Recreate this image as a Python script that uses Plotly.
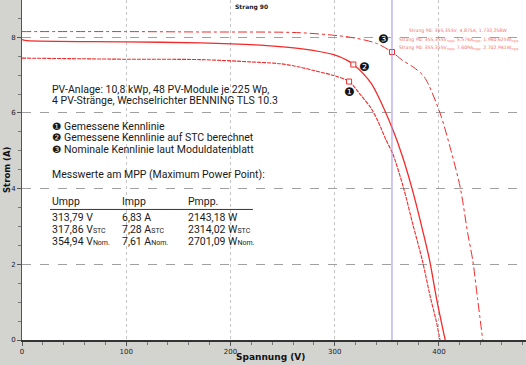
import plotly.graph_objects as go

# ---------------- data ----------------
# Curve 1: measured I-V characteristic
v1 = [0, 100, 171, 219, 248, 267, 280, 299, 313.79, 325, 335, 342, 349, 356, 366, 375, 384, 392, 397, 401]
i1 = [7.45, 7.42, 7.41, 7.35, 7.30, 7.21, 7.12, 6.99, 6.83, 6.47, 6.12, 5.75, 5.30, 4.90, 4.02, 3.05, 2.11, 1.10, 0.55, 0]
# Curve 2: measured, converted to STC
v2 = [0, 5, 100, 171, 235, 267, 299, 312, 317.86, 328, 335, 341, 356, 365, 374, 383, 391, 398, 406]
i2 = [7.94, 7.91, 7.88, 7.85, 7.78, 7.70, 7.54, 7.39, 7.28, 7.02, 6.78, 6.48, 5.54, 4.85, 4.02, 3.05, 2.11, 1.05, 0]
# Curve 3: nominal characteristic (module data sheet)
v3 = [0, 100, 171, 267, 315, 340, 354.94, 365, 376, 386, 401, 411.5, 420.5, 427.6, 432.4, 437, 442]
i3 = [8.15, 8.15, 8.14, 8.12, 8.00, 7.84, 7.61, 7.39, 7.20, 6.95, 6.00, 5.01, 4.02, 2.82, 2.11, 1.10, 0]

# MPP values (table)
umpp = [313.79, 317.86, 354.94]
impp = [6.83, 7.28, 7.61]
pmpp = [2143.18, 2314.02, 2701.09]
suffix = ["", "STC", "Nom."]
marks = ["\u2776", "\u2777", "\u2778"]
labels = ["Gemessene Kennlinie", "Gemessene Kennlinie auf STC berechnet",
          "Nominale Kennlinie laut Moduldatenblatt"]
cursor_lines = ["Strang 90: 355,355V, 4,875A, 1.733,258W",
                "Strang 90: 355,355V<sub>mpp</sub>, 5,574A<sub>mpp</sub>, 1.980,625W<sub>mpp</sub>",
                "Strang 90: 355,355V<sub>mpp</sub>, 7,609A<sub>mpp</sub>, 2.702,941W<sub>mpp</sub>"]
x_ticks = [0, 100, 200, 300, 400]
y_ticks = [0, 2, 4, 6, 8]

RED = "#f42a2a"
TXT = "Liberation Sans Narrow, Arial Narrow, Roboto, sans-serif"

fig = go.Figure()
fig.add_trace(go.Scatter(x=v3, y=i3, mode="lines", line=dict(color=RED, width=1, dash="dashdot", shape="spline", smoothing=0.8), hoverinfo="skip"))
fig.add_trace(go.Scatter(x=v1, y=i1, mode="lines", line=dict(color=RED, width=1.1, dash="4px,1px", shape="spline", smoothing=0.8), hoverinfo="skip"))
fig.add_trace(go.Scatter(x=v2, y=i2, mode="lines", line=dict(color=RED, width=1.3, shape="spline", smoothing=0.8), hoverinfo="skip"))
fig.add_trace(go.Scatter(x=umpp, y=impp, mode="markers",
                         marker=dict(symbol="square", size=5, color="white", line=dict(color=RED, width=1)),
                         hoverinfo="skip"))

# cursor line at nominal Umpp
fig.add_shape(type="line", x0=umpp[2], x1=umpp[2], y0=0, y1=1, xref="x", yref="paper",
              line=dict(color="#9a8ee6", width=1))

ann = []
# numbered markers near MPPs
offs = [(0.2, -0.27), (11, -0.06), (-7.7, 0.34)]
for k in range(3):
    ann.append(dict(x=umpp[k] + offs[k][0], y=impp[k] + offs[k][1], text=marks[k], showarrow=False,
                    xanchor="center", yanchor="middle",
                    font=dict(family="DejaVu Sans", size=12, color="#111")))

# text block
X0 = 26.9
def t(x, y, s, size=10.5):
    ann.append(dict(x=x, y=y, text=s, showarrow=False, xanchor="left", yanchor="middle",
                    font=dict(family=TXT, size=size, color="#1a1a1a")))

t(X0, 6.61, "PV-Anlage: 10,8 kWp, 48 PV-Module je 225 Wp,")
t(X0, 6.32, "4 PV-Stränge, Wechselrichter BENNING TLS 10.3")
for k, yy in enumerate([5.64, 5.34, 5.03]):
    t(X0, yy, f"<span style='font-family:DejaVu Sans'>{marks[k]}</span> " + labels[k])
t(X0, 4.38, "Messwerte am MPP (Maximum Power Point):")
cols = [X0, 94, 157]
t(cols[0], 3.66, "Umpp")
t(cols[1], 3.66, "Impp")
t(cols[2], 3.66, "Pmpp.")
row_y = [3.23, 2.91, 2.60]
def fmt(v):
    return f"{v:.2f}".replace(".", ",")
for k in range(3):
    sub = f"<span style='font-size:7px'>{suffix[k]}</span>" if suffix[k] else ""
    t(cols[0], row_y[k], f"{fmt(umpp[k])} V{sub}")
    t(cols[1], row_y[k], f"{fmt(impp[k])} A{sub}")
    t(cols[2], row_y[k], f"{fmt(pmpp[k])} W{sub}")

fig.add_shape(type="line", x0=X0, x1=221.5, y0=3.45, y1=3.45, xref="x", yref="y",
              line=dict(color="#333", width=1))

# cursor readout (top right)
for k, (px, py) in enumerate([(458, 30), (458, 39.5), (458, 48)]):
    ann.append(dict(x=(px - 22) / 504, y=1 - py / 340, xref="paper", yref="paper", text=cursor_lines[k],
                    showarrow=False, xanchor="center", yanchor="middle",
                    font=dict(family="DejaVu Sans", size=4.6, color="#f07070")))

# title and axis titles
ann.append(dict(x=(251 - 22) / 504, y=1 - 7 / 340, xref="paper", yref="paper", text="<b>Strang 90</b>",
                showarrow=False, xanchor="center", yanchor="middle",
                font=dict(family="DejaVu Sans", size=6, color="#222")))
ann.append(dict(x=(270 - 22) / 504, y=-17 / 340, xref="paper", yref="paper", text="<b>Spannung (V)</b>",
                showarrow=False, xanchor="center", yanchor="middle",
                font=dict(family="DejaVu Sans", size=9, color="#111")))
ann.append(dict(x=-15 / 504, y=0.5, xref="paper", yref="paper", text="<b>Strom (A)</b>", textangle=-90,
                showarrow=False, xanchor="center", yanchor="middle",
                font=dict(family="DejaVu Sans", size=8.5, color="#111")))

fig.update_layout(
    width=526, height=365,
    margin=dict(l=22, r=0, t=0, b=25),
    paper_bgcolor="#d3d3cf", plot_bgcolor="white",
    showlegend=False, annotations=ann,
    xaxis=dict(range=[0, 483.5], tickvals=x_ticks, showgrid=True, gridcolor="#c4c4c4", griddash="dot",
               gridwidth=1, zeroline=False, showline=True, linecolor="#333", linewidth=1.5,
               ticks="outside", ticklen=4, tickcolor="#555",
               minor=dict(dtick=20, ticks="outside", ticklen=3, tickcolor="#777", showgrid=False),
               tickfont=dict(family="DejaVu Sans", size=7, color="#222")),
    yaxis=dict(range=[0, 8.985], tickvals=y_ticks, showgrid=True, gridcolor="#a0a0a0", griddash="dash",
               gridwidth=1, zeroline=False, showline=True, linecolor="#555", linewidth=1,
               ticks="outside", ticklen=4, tickcolor="#555",
               minor=dict(dtick=0.5, ticks="outside", ticklen=3, tickcolor="#777", showgrid=False),
               tickfont=dict(family="DejaVu Sans", size=7, color="#222")),
)

fig.write_html("out.html", config={"displayModeBar": False},
               post_script="document.body.style.margin='0';document.body.style.overflow='hidden';")
